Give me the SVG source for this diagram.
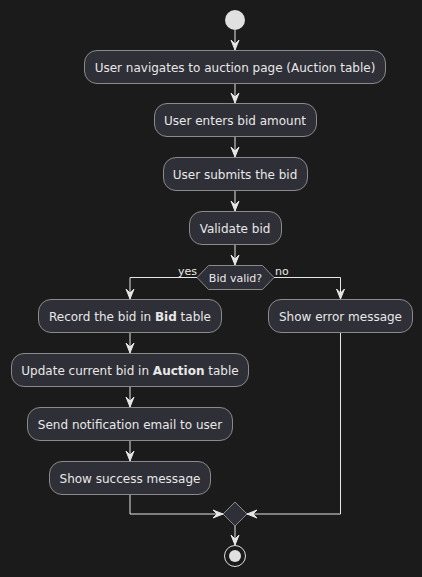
<svg xmlns="http://www.w3.org/2000/svg" width="422" height="577" viewBox="0 0 422 577">
<defs>
<style>
.bg{fill:#1b1b1b}
.act rect{fill:#2f2f37;stroke:#8a8a8a;stroke-width:1}
.dec polygon{fill:#2f2f37;stroke:#8a8a8a;stroke-width:1}
text{font-family:"DejaVu Sans","Noto Sans",sans-serif;font-size:12px;fill:#e8e8e8}
.c{text-anchor:middle}
.lbl{font-size:11px}
.ln{fill:none;stroke:#e6e6e6;stroke-width:1}
.ah{fill:#e6e6e6;stroke:#e6e6e6;stroke-width:1}
</style>
</defs>
<rect class="bg" x="0" y="0" width="422" height="577"/>
<g id="start"><circle cx="235" cy="20" r="10" fill="#e0e0e0"/></g>
<g id="n1" class="act"><rect x="84.5" y="50.5" width="301" height="33" rx="12.5"/><text class="c" x="235" y="71.5">User navigates to auction page (Auction table)</text></g>
<g id="n2" class="act"><rect x="154.5" y="103.5" width="162" height="33" rx="12.5"/><text class="c" x="235" y="124.5">User enters bid amount</text></g>
<g id="n3" class="act"><rect x="163.5" y="157.5" width="144" height="33" rx="12.5"/><text class="c" x="235" y="178.5">User submits the bid</text></g>
<g id="n4" class="act"><rect x="189.5" y="211.5" width="92" height="33" rx="12.5"/><text class="c" x="235" y="232.5">Validate bid</text></g>
<g id="d1" class="dec"><polygon points="197,277.5 208.5,265.5 262.5,265.5 274,277.5 262.5,289.5 208.5,289.5"/><text class="c" x="235.5" y="281.5" style="font-size:11px">Bid valid?</text></g>
<g id="n5" class="act"><rect x="38.5" y="299.5" width="183" height="33" rx="12.5"/><text class="c" x="130" y="320.5">Record the bid in <tspan font-weight="bold">Bid</tspan> table</text></g>
<g id="n6" class="act"><rect x="268.5" y="299.5" width="144" height="33" rx="12.5"/><text class="c" x="340.5" y="320.5">Show error message</text></g>
<g id="n7" class="act"><rect x="11.5" y="353.5" width="237" height="33" rx="12.5"/><text class="c" x="130" y="374.5">Update current bid in <tspan font-weight="bold">Auction</tspan> table</text></g>
<g id="n8" class="act"><rect x="27.5" y="407.5" width="205" height="33" rx="12.5"/><text class="c" x="130" y="428.5">Send notification email to user</text></g>
<g id="n9" class="act"><rect x="49.5" y="461.5" width="161" height="33" rx="12.5"/><text class="c" x="130" y="482.5">Show success message</text></g>
<g id="merge" class="dec"><polygon points="235,502 247,514 235,526 223,514"/></g>
<g id="end"><circle cx="235" cy="556" r="10.5" fill="none" stroke="#e0e0e0" stroke-width="1"/><circle cx="235" cy="556" r="6" fill="#e0e0e0"/></g>
<g id="connectors">
<line class="ln" x1="235" y1="30" x2="235" y2="50"/><polygon class="ah" points="231,40 235,50 239,40 235,44"/>
<line class="ln" x1="235" y1="84" x2="235" y2="103"/><polygon class="ah" points="231,93 235,103 239,93 235,97"/>
<line class="ln" x1="235" y1="137" x2="235" y2="157"/><polygon class="ah" points="231,147 235,157 239,147 235,151"/>
<line class="ln" x1="235" y1="191" x2="235" y2="211"/><polygon class="ah" points="231,201 235,211 239,201 235,205"/>
<line class="ln" x1="235" y1="245" x2="235" y2="265"/><polygon class="ah" points="231,255 235,265 239,255 235,259"/>
<polyline class="ln" points="197,277.5 130,277.5 130,299"/><polygon class="ah" points="126,289 130,299 134,289 130,293"/>
<polyline class="ln" points="274,277.5 340.5,277.5 340.5,299"/><polygon class="ah" points="336.5,289 340.5,299 344.5,289 340.5,293"/>
<text class="lbl" x="178" y="274.5">yes</text>
<text class="lbl" x="275" y="274.5">no</text>
<line class="ln" x1="130" y1="333" x2="130" y2="353"/><polygon class="ah" points="126,343 130,353 134,343 130,347"/>
<line class="ln" x1="130" y1="387" x2="130" y2="407"/><polygon class="ah" points="126,397 130,407 134,397 130,401"/>
<line class="ln" x1="130" y1="441" x2="130" y2="461"/><polygon class="ah" points="126,451 130,461 134,451 130,455"/>
<polyline class="ln" points="130,495 130,514 223,514"/><polygon class="ah" points="213,510 223,514 213,518 217,514"/>
<polyline class="ln" points="340.5,333 340.5,514 247,514"/><polygon class="ah" points="257,510 247,514 257,518 253,514"/>
<line class="ln" x1="235" y1="526" x2="235" y2="545"/><polygon class="ah" points="231,535 235,545 239,535 235,539"/>
</g>
</svg>
